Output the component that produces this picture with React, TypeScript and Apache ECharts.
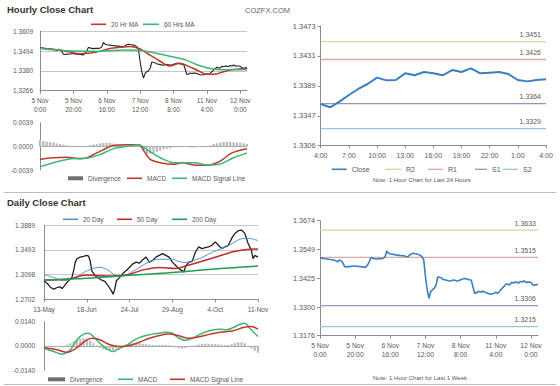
import React, { useEffect, useRef } from "react";
import * as echarts from "echarts";

// ---------- tick labels ----------
const hourTickValues = [0, 20, 40, 60, 80, 100, 120];
const hourTickLabels = ["5 Nov\n0:00", "5 Nov\n20:00", "6 Nov\n16:00", "7 Nov\n12:00", "8 Nov\n8:00", "11 Nov\n4:00", "12 Nov\n0:00"];
const dayTickValues = [0, 26, 52, 78, 104, 130];
const dayTickLabels = ["13-May", "18-Jun", "24-Jul", "29-Aug", "4-Oct", "11-Nov"];
const last24TickValues = [0, 3, 6, 9, 12, 15, 18, 21, 24];
const last24TickLabels = ["4:00", "7:00", "10:00", "13:00", "16:00", "19:00", "22:00", "1:00", "4:00"];

const hourlyYTicks = [1.3266, 1.338, 1.3494, 1.3609];
const hourlyMacdTicks = [-0.0039, 0, 0.0039];
const last24YTicks = [1.3306, 1.3347, 1.3389, 1.3431, 1.3473];
const dailyYTicks = [1.2702, 1.3098, 1.3493, 1.3889];
const dailyMacdTicks = [-0.014, 0, 0.014];
const weekYTicks = [1.3176, 1.33, 1.3425, 1.3549, 1.3674];

// ---------- hourly (last week) ----------
const weekClose = [
  1.3514, 1.3512, 1.351, 1.3509, 1.3508, 1.3507, 1.3506, 1.3505, 1.3504, 1.35,
  1.3496, 1.3504, 1.35, 1.3492, 1.3475, 1.3474, 1.3476, 1.3475, 1.3477, 1.3478,
  1.3478, 1.3477, 1.3476, 1.3475, 1.3474, 1.3473, 1.3472, 1.3482, 1.3496, 1.3514,
  1.3512, 1.3509, 1.3508, 1.3509, 1.351, 1.3509, 1.3511, 1.3518, 1.3543, 1.3533,
  1.353, 1.3529, 1.3528, 1.3526, 1.3525, 1.3524, 1.3522, 1.3523, 1.3521, 1.3519,
  1.3518, 1.3525, 1.353, 1.3533, 1.3531, 1.353, 1.3528, 1.3524, 1.3518, 1.3504,
  1.3431, 1.3374, 1.3338, 1.3367, 1.3375, 1.3381, 1.3395, 1.3431, 1.3428, 1.3427,
  1.342, 1.3418, 1.3416, 1.3414, 1.3413, 1.3415, 1.3417, 1.3415, 1.3413, 1.3414,
  1.3418, 1.3421, 1.3424, 1.3423, 1.342, 1.3418, 1.3417, 1.3388, 1.3359, 1.3362,
  1.3368, 1.3365, 1.3367, 1.3368, 1.3364, 1.3361, 1.3358, 1.3356, 1.3358, 1.3359,
  1.3364, 1.3359, 1.3367, 1.3376, 1.3385, 1.3392, 1.3401, 1.3397, 1.3397, 1.3407,
  1.3404, 1.3408, 1.3407, 1.3404, 1.3411, 1.3408, 1.3414, 1.3407, 1.3408, 1.3408,
  1.3406, 1.3397, 1.3395, 1.3397, 1.3398,
];
const ma20Hr: [number, number][] = [
  [0, 1.3512], [6, 1.3505], [12, 1.35], [18, 1.3488], [24, 1.3478], [30, 1.3482], [36, 1.3492],
  [42, 1.3508], [48, 1.3515], [54, 1.352], [59, 1.351], [62, 1.3495], [66, 1.347], [72, 1.3435],
  [78, 1.3408], [84, 1.3424], [88, 1.341], [94, 1.3385], [100, 1.336], [104, 1.336], [110, 1.3375],
  [116, 1.3388], [124, 1.3394],
];
const ma60Hr: [number, number][] = [
  [0, 1.3509], [10, 1.35], [20, 1.3494], [30, 1.3492], [40, 1.3495], [50, 1.35], [59, 1.3499],
  [66, 1.3488], [74, 1.3472], [82, 1.3455], [88, 1.344], [94, 1.3415], [100, 1.3398], [106, 1.3388],
  [114, 1.3387], [124, 1.3387],
];
const hourMacd: [number, number][] = [
  [0, -0.00215], [8, -0.00188], [16, -0.00178], [24, -0.00204], [28, -0.0019], [34, -0.00108],
  [40, -0.00027], [44, 0.00016], [52, 0.00027], [59, 0.00027], [63, -0.00108], [66, -0.00215],
  [72, -0.00269], [80, -0.00296], [85, -0.00269], [92, -0.00307], [100, -0.00312], [108, -0.00242],
  [115, -0.00108], [124, -0.00038],
];
const hourSignal: [number, number][] = [
  [0, -0.00339], [8, -0.0027], [16, -0.00215], [24, -0.00199], [28, -0.00195], [36, -0.00134],
  [44, -0.00038], [52, 0], [59, 0.00027], [64, -0.00054], [72, -0.00188], [80, -0.00269],
  [85, -0.0027], [92, -0.00269], [100, -0.00307], [108, -0.0029], [116, -0.00188], [124, -0.00108],
];
const hourDivergence: [number, number][] = [
  [0, 0.0011], [2, 0.0009], [4, 0.0008], [6, 0.0007], [8, 0.00065], [10, 0.0005], [12, 0.0004],
  [14, 0.0003], [16, 0.00015], [18, 0.0001], [20, 0], [22, -0.00005], [24, -0.0001], [26, -0.00005],
  [28, 0.00005], [30, 0.0002], [32, 0.0003], [34, 0.0004], [36, 0.0005], [38, 0.00055], [40, 0.0006],
  [42, 0.00055], [44, 0.00045], [46, 0.0003], [48, 0.0002], [50, 0.00012], [52, 0.00005], [54, 0],
  [56, 0], [58, 0.00005], [60, -0.00016], [62, -0.0008], [64, -0.0013], [66, -0.0012], [68, -0.0011],
  [70, -0.0009], [72, -0.0007], [74, -0.0005], [76, -0.0004], [78, -0.0003], [80, -0.00015],
  [82, -0.0001], [84, 0], [86, -0.00005], [88, -0.00015], [90, -0.0002], [92, -0.0002],
  [94, -0.00015], [96, -0.0001], [98, -0.00005], [100, 0], [102, 0.00015], [104, 0.0004],
  [106, 0.0005], [108, 0.0006], [110, 0.0007], [112, 0.00075], [114, 0.00075], [116, 0.0007],
  [118, 0.00065], [120, 0.0006], [122, 0.0005], [124, 0.0004],
];

// ---------- last 24 hours ----------
const last24Close = [
  1.33635, 1.33589, 1.33668, 1.33762, 1.33846, 1.33916, 1.34005, 1.33967, 1.33972, 1.34066,
  1.34038, 1.34084, 1.34066, 1.34038, 1.34112, 1.34084, 1.34136, 1.34066, 1.34075, 1.34084,
  1.34056, 1.33972, 1.33953, 1.33972, 1.33981,
];
const pivotNames = ["R2", "R1", "S1", "S2"];
const pivot24Values = [1.3451, 1.3426, 1.3364, 1.3329];
const pivotWeekValues = [1.3633, 1.3515, 1.3306, 1.3215];

// ---------- daily ----------
const dailyClose: [number, number][] = [
  [0, 1.3], [2, 1.2957], [4, 1.2892], [6, 1.2865], [8, 1.2892], [10, 1.29], [11, 1.2876], [12, 1.2905],
  [14, 1.2973], [16, 1.3027], [17, 1.3054], [18, 1.3163], [19, 1.3298], [20, 1.3352], [22, 1.3379],
  [24, 1.339], [26, 1.3406], [27, 1.3395], [28, 1.3325], [29, 1.3163], [31, 1.3081], [33, 1.3043],
  [35, 1.3011], [37, 1.2989], [39, 1.2919], [41, 1.2837], [42, 1.2783], [43, 1.2865], [44, 1.3],
  [46, 1.3054], [48, 1.3119], [50, 1.3163], [52, 1.3217], [54, 1.3271], [56, 1.3298], [58, 1.3282],
  [60, 1.3336], [62, 1.3379], [64, 1.3298], [66, 1.3325], [68, 1.3379], [70, 1.3406], [72, 1.3434],
  [74, 1.3406], [76, 1.3379], [78, 1.3298], [80, 1.3244], [82, 1.319], [84, 1.3163], [85, 1.314],
  [86, 1.323], [88, 1.3298], [90, 1.331], [92, 1.3461], [94, 1.3542], [96, 1.3515], [98, 1.3531],
  [100, 1.3542], [102, 1.3569], [104, 1.3623], [106, 1.3569], [108, 1.3515], [110, 1.3542],
  [112, 1.3569], [114, 1.3678], [116, 1.3759], [118, 1.3802], [120, 1.3813], [122, 1.3759],
  [124, 1.3596], [125, 1.3542], [126, 1.3488], [127, 1.3352], [128, 1.3406], [130, 1.3379],
];
const ma20Day: [number, number][] = [
  [0, 1.31], [6, 1.305], [12, 1.3], [18, 1.304], [24, 1.313], [29, 1.319], [34, 1.3215], [39, 1.317],
  [44, 1.3085], [49, 1.309], [54, 1.3147], [59, 1.323], [64, 1.3307], [70, 1.3345], [78, 1.3345],
  [82, 1.3307], [86, 1.3291], [90, 1.332], [95, 1.336], [103, 1.3467], [111, 1.3547], [119, 1.3665],
  [124, 1.3681], [130, 1.3644],
];
const ma50Day: [number, number][] = [
  [0, 1.3011], [14, 1.3022], [26, 1.3091], [38, 1.3075], [50, 1.3091], [60, 1.3171], [70, 1.3214],
  [80, 1.3198], [86, 1.3235], [95, 1.3305], [105, 1.3385], [115, 1.3465], [123, 1.3502], [130, 1.351],
];
const ma200Day: [number, number][] = [
  [0, 1.301], [20, 1.303], [40, 1.3065], [60, 1.31], [80, 1.3135], [100, 1.318], [115, 1.321], [130, 1.3236],
];
const dayMacd: [number, number][] = [
  [0, -0.00135], [6, -0.0033], [11, -0.0048], [16, -0.0023], [20, 0.0035], [24, 0.0068], [27, 0.0073],
  [30, 0.0054], [34, 0.0015], [38, -0.0017], [42, -0.0033], [46, -0.0014], [50, 0.0002], [54, 0.0029],
  [58, 0.0048], [62, 0.006], [66, 0.0068], [70, 0.0073], [74, 0.0079], [78, 0.0073], [82, 0.0044],
  [86, 0.0031], [90, 0.0044], [95, 0.0068], [99, 0.0083], [103, 0.0093], [107, 0.0096], [111, 0.0093],
  [115, 0.0106], [119, 0.0125], [122, 0.0131], [125, 0.0102], [128, 0.0073], [130, 0.0054],
];
const daySignal: [number, number][] = [
  [0, -0.001], [8, -0.0023], [14, -0.0037], [20, -0.001], [26, 0.0035], [30, 0.0044], [34, 0.0035],
  [40, 0.0006], [46, -0.0004], [52, 0.0002], [58, 0.0021], [64, 0.0044], [70, 0.006], [76, 0.0068],
  [82, 0.0058], [88, 0.0044], [95, 0.0054], [101, 0.0068], [107, 0.0079], [115, 0.0087], [121, 0.0106],
  [126, 0.0112], [130, 0.0097],
];
const dayDivergence: [number, number][] = [
  [0, -0.0003], [2, -0.0006], [4, -0.0008], [6, -0.0008], [8, -0.0006], [10, -0.0003], [12, 0],
  [14, 0.0008], [16, 0.0015], [18, 0.0025], [20, 0.0035], [22, 0.0042], [24, 0.0045], [26, 0.004],
  [28, 0.003], [30, 0.0015], [32, 0.0002], [34, -0.0012], [36, -0.002], [38, -0.0025], [40, -0.0028],
  [42, -0.0025], [44, -0.0015], [46, -0.0008], [48, 0.0002], [50, 0.0008], [52, 0.0012], [54, 0.0014],
  [56, 0.0015], [58, 0.0014], [60, 0.0012], [62, 0.001], [64, 0.0008], [66, 0.0006], [68, 0.0005],
  [70, 0.0005], [72, 0.0006], [74, 0.0006], [76, 0.0004], [78, 0.0001], [80, -0.0008], [82, -0.0014],
  [84, -0.0016], [86, -0.0013], [88, -0.0008], [90, -0.0002], [92, 0.0004], [94, 0.0008], [96, 0.0011],
  [98, 0.0012], [100, 0.0012], [102, 0.0011], [104, 0.001], [106, 0.0008], [108, 0.0006], [110, 0.0005],
  [112, 0.0006], [114, 0.001], [116, 0.0016], [118, 0.002], [120, 0.002], [122, 0.0015], [124, 0],
  [126, -0.0015], [128, -0.0028], [130, -0.004],
];

// ---------- styling ----------
const FONT = '"Liberation Sans", Arial, sans-serif';
const TXT = "#595959";
const AXIS = "#8c8c8c";
const RED = "#c0392b";
const GREEN = "#3db57a";
const BLUE = "#3a7fc1";
const PIVOT_COLORS = ["#d6d6a0", "#d9aaa2", "#9c94bc", "#93c9d9"];

const legendText: Record<string, string> = {
  hDiv: "Divergence", hMACD: "MACD", hSig: "MACD Signal Line",
  dDiv: "Divergence", dMACD: "MACD", dSig: "MACD Signal Line",
};

const lineStyleAxis = { color: AXIS, width: 1 };

function xAxisLabeled(gridIndex: number, max: number, ticks: number[], labels: string[], fs: number, margin: number) {
  return {
    type: "value", gridIndex, min: 0, max,
    axisLine: { show: true, onZero: false, lineStyle: lineStyleAxis },
    axisTick: { show: true, customValues: ticks, length: 3, lineStyle: lineStyleAxis },
    axisLabel: {
      show: true, customValues: ticks, margin,
      formatter: (v: number) => { const i = ticks.indexOf(v); return i >= 0 ? labels[i] : ""; },
      color: TXT, fontSize: fs, fontFamily: FONT, lineHeight: fs + 1.8,
    },
    splitLine: { show: false },
  };
}
function xAxisZero(gridIndex: number, max: number) {
  return {
    type: "value", gridIndex, min: 0, max,
    axisLine: { show: true, onZero: true, lineStyle: { color: "#a6a6a6", width: 1 } },
    axisTick: { show: false }, axisLabel: { show: false }, splitLine: { show: false },
  };
}
function yAxisTicks(gridIndex: number, ticks: number[], fs: number, margin: number, split: boolean, tick: boolean) {
  return {
    type: "value", gridIndex, min: ticks[0], max: ticks[ticks.length - 1],
    axisLine: { show: true, lineStyle: lineStyleAxis },
    axisTick: { show: tick, customValues: ticks, length: 3, lineStyle: lineStyleAxis },
    axisLabel: {
      customValues: ticks, margin, formatter: (v: number) => v.toFixed(4),
      color: TXT, fontSize: fs, fontFamily: FONT,
    },
    splitLine: { show: split, lineStyle: { color: "#c6c6c6", width: 1 } },
  };
}
function leg(name: string, left: number, cy: number, w: number, h: number, fs: number, color?: string) {
  return {
    data: [color ? { name, itemStyle: { color } } : name],
    left, top: cy - 4.5, itemWidth: w, itemHeight: h, icon: "rect", padding: 0, itemGap: 0,
    selectedMode: false,
    formatter: (n: string) => legendText[n] ?? n,
    textStyle: { color: TXT, fontSize: fs, fontFamily: FONT, lineHeight: 9 },
  };
}
function line(name: string, xi: number, data: any[], color: string, width: number, smooth: number | boolean = false) {
  return {
    type: "line", name, xAxisIndex: xi, yAxisIndex: xi, data, color,
    symbol: "none", smooth, lineStyle: { color, width }, silent: true, z: 3,
  };
}
function pivotSeries(xi: number, max: number, values: number[], fs: number, dist: number) {
  return pivotNames.map((n, i) => ({
    type: "line", name: n, xAxisIndex: xi, yAxisIndex: xi, color: PIVOT_COLORS[i],
    data: [[0, values[i]], { value: [max, values[i]], label: { show: true } }],
    symbol: "circle", symbolSize: 0, showSymbol: true, clip: false, silent: true, z: 2,
    lineStyle: { color: PIVOT_COLORS[i], width: 1.3 },
    itemStyle: { color: PIVOT_COLORS[i] },
    label: {
      show: false, position: "left", distance: dist, offset: [0, -7],
      formatter: (p: any) => p.value[1].toFixed(4), color: TXT, fontSize: fs, fontFamily: FONT,
    },
  }));
}

const option: any = {
  animation: false,
  backgroundColor: "#ffffff",
  textStyle: { fontFamily: FONT },
  grid: [
    { left: 40, top: 31, width: 207, height: 59.7 },
    { left: 40, top: 122.7, width: 207, height: 47.3 },
    { left: 320.7, top: 26, width: 225.3, height: 119 },
    { left: 44, top: 225.3, width: 214, height: 74 },
    { left: 44, top: 321.7, width: 214, height: 48.3 },
    { left: 320, top: 220.7, width: 218, height: 115 },
  ],
  xAxis: [
    xAxisLabeled(0, 124, hourTickValues, hourTickLabels, 6.5, 6),
    xAxisZero(1, 124),
    xAxisLabeled(2, 24, last24TickValues, last24TickLabels, 7, 6),
    xAxisLabeled(3, 130, dayTickValues, dayTickLabels, 6.5, 6),
    xAxisZero(4, 130),
    xAxisLabeled(5, 124, hourTickValues, hourTickLabels, 6.8, 6),
  ],
  yAxis: [
    yAxisTicks(0, hourlyYTicks, 6.5, 7, true, false),
    yAxisTicks(1, hourlyMacdTicks, 6.5, 7, false, false),
    yAxisTicks(2, last24YTicks, 7.5, 5, false, true),
    yAxisTicks(3, dailyYTicks, 6.5, 9, true, false),
    yAxisTicks(4, dailyMacdTicks, 6.5, 9, false, false),
    yAxisTicks(5, weekYTicks, 7.2, 5, false, true),
  ],
  legend: [
    leg("20 Hr MA", 91, 24.3, 15, 1.6, 6.5),
    leg("60 Hrs MA", 143, 24.3, 16, 1.6, 6.5),
    leg("hDiv", 68, 178.3, 15, 4, 6.5, "#6f6f6f"),
    leg("hMACD", 127, 178.3, 15, 1.6, 6.5),
    leg("hSig", 172, 178.3, 15, 1.6, 6.5),
    leg("Close", 331.7, 169.3, 15, 1.6, 7),
    leg("R2", 385, 169.3, 16, 1.3, 7),
    leg("R1", 428, 169.3, 15, 1.3, 7),
    leg("S1", 475, 169.3, 12, 1.3, 7),
    leg("S2", 503, 169.3, 15, 1.3, 7),
    leg("20 Day", 63, 219.3, 15, 1.6, 6.5),
    leg("50 Day", 117, 219.3, 15, 1.6, 6.5),
    leg("200 Day", 172, 219.3, 15, 1.6, 6.5),
    leg("dDiv", 48, 379.3, 17, 4, 6.5, "#6f6f6f"),
    leg("dMACD", 118, 379.3, 15, 1.6, 6.5),
    leg("dSig", 170, 379.3, 15, 1.6, 6.5),
  ],
  series: [
    // hourly main
    line("hClose", 0, weekClose.map((v, i) => [i, v]), "#1f1f1f", 1.1),
    line("20 Hr MA", 0, ma20Hr, RED, 1.5, 0.35),
    line("60 Hrs MA", 0, ma60Hr, GREEN, 1.5, 0.35),
    // hourly MACD
    {
      type: "bar", name: "hDiv", xAxisIndex: 1, yAxisIndex: 1, data: hourDivergence,
      barWidth: 2.2, color: "#b9b9b9", silent: true,
    },
    line("hMACD", 1, hourMacd, RED, 1.5, 0.35),
    line("hSig", 1, hourSignal, GREEN, 1.5, 0.35),
    // last 24
    ...pivotSeries(2, 24, pivot24Values, 7, 5),
    line("Close", 2, last24Close.map((v, i) => [i, v]), BLUE, 2),
    // daily
    line("dClose", 3, dailyClose, "#1f1f1f", 1.3),
    line("20 Day", 3, ma20Day, "#5b8fc9", 1, 0.35),
    line("50 Day", 3, ma50Day, "#c62828", 1.5, 0.35),
    line("200 Day", 3, ma200Day, "#1f9d55", 1.5, 0.35),
    // daily MACD
    {
      type: "bar", name: "dDiv", xAxisIndex: 4, yAxisIndex: 4, data: dayDivergence,
      barWidth: 2.2, color: "#b9b9b9", silent: true,
    },
    line("dMACD", 4, dayMacd, GREEN, 1.5, 0.35),
    line("dSig", 4, daySignal, RED, 1.5, 0.35),
    // week
    ...pivotSeries(5, 124, pivotWeekValues, 7, 2),
    line("Close", 5, weekClose.map((v, i) => [i, v]), BLUE, 1.6),
  ],
  graphic: [
    { type: "text", x: 7, y: 9.5, style: { text: "Hourly Close Chart", font: `bold 9.5px ${FONT}`, fill: "#333333", align: "left", verticalAlign: "middle" } },
    { type: "text", x: 245, y: 10, style: { text: "COZFX.COM", font: `7.5px ${FONT}`, fill: "#666666", align: "left", verticalAlign: "middle" } },
    { type: "text", x: 421.7, y: 180, style: { text: "Note: 1 Hour Chart for Last 24 Hours", font: `6px ${FONT}`, fill: TXT, align: "center", verticalAlign: "middle" } },
    { type: "line", shape: { x1: 4, y1: 192.5, x2: 556, y2: 192.5 }, style: { stroke: "#bdbdbd", lineWidth: 1 } },
    { type: "text", x: 7, y: 202, style: { text: "Daily Close Chart", font: `bold 9.5px ${FONT}`, fill: "#333333", align: "left", verticalAlign: "middle" } },
    { type: "text", x: 420, y: 378.3, style: { text: "Note: 1 Hour Chart for Last 1 Week", font: `6px ${FONT}`, fill: TXT, align: "center", verticalAlign: "middle" } },
    { type: "line", shape: { x1: 4, y1: 384.5, x2: 556, y2: 384.5 }, style: { stroke: "#bdbdbd", lineWidth: 1 } },
  ],
};

export default function App() {
  const ref = useRef<HTMLDivElement>(null);
  useEffect(() => {
    if (!ref.current) return;
    const chart = echarts.init(ref.current, null, { renderer: "svg" });
    chart.setOption(option);
    return () => chart.dispose();
  }, []);
  return (
    <div
      ref={ref}
      style={{ position: "absolute", left: 0, top: 0, width: 560, height: 386, background: "#fff" }}
    />
  );
}
